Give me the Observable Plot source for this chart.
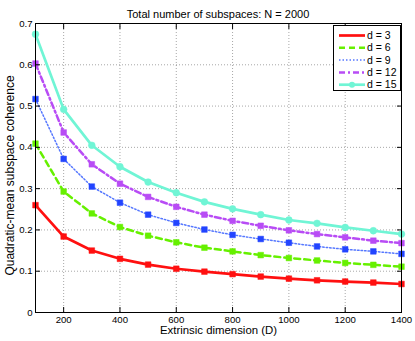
<!DOCTYPE html>
<html><head><meta charset="utf-8">
<script src="https://cdn.jsdelivr.net/npm/d3@7"></script>
<script src="https://cdn.jsdelivr.net/npm/@observablehq/plot@0.6"></script>
<style>
body{margin:0;background:#fff;font-family:"Liberation Sans",Arial,sans-serif;}
#wrap{position:relative;width:415px;height:341px;overflow:hidden;}
#title{height:21px;box-sizing:border-box;padding:8px 14px 0 35px;line-height:13px;font-size:11px;text-align:center;color:#000;}
#legend{position:absolute;left:333px;top:25px;}
svg{display:block;}
</style></head>
<body><div id="wrap"><div id="title"></div><div id="chart"></div><svg id="legend" width="68" height="66"></svg></div>
<script>
const titleText = "Total number of subspaces: N = 2000";
const xLabel = "Extrinsic dimension (D)";
const yLabel = "Quadratic-mean subspace coherence";
const xValues = [100,200,300,400,500,600,700,800,900,1000,1100,1200,1300,1400];
const seriesLabels = ["d = 3","d = 6","d = 9","d = 12","d = 15"];
const d3Values  = [0.260,0.184,0.150,0.130,0.116,0.106,0.099,0.093,0.087,0.082,0.078,0.075,0.0725,0.069];
const d6Values  = [0.409,0.293,0.240,0.207,0.186,0.170,0.157,0.148,0.139,0.132,0.126,0.120,0.1155,0.111];
const d9Values  = [0.517,0.372,0.305,0.266,0.237,0.217,0.201,0.188,0.178,0.169,0.160,0.153,0.148,0.142];
const d12Values = [0.603,0.436,0.359,0.312,0.280,0.256,0.237,0.222,0.210,0.199,0.190,0.182,0.174,0.168];
const d15Values = [0.674,0.492,0.405,0.353,0.316,0.290,0.268,0.251,0.237,0.224,0.216,0.206,0.198,0.190];
const xTicks = [200,400,600,800,1000,1200,1400];
const yTicks = [0,0.1,0.2,0.3,0.4,0.5,0.6,0.7];

const seriesValues = [d3Values,d6Values,d9Values,d12Values,d15Values];
// styles
const lineColors = ["#ff1010","#66f000","#5577ff","#b84cf5","#70f5d5"];
const markColors = ["#ff1010","#66f000","#2244ff","#b84cf5","#70f5d5"];
const dashes = [null,"6,4","1.5,2","6,3,2,3",null];
const widths = [2.7,2.5,1.5,2.5,2.7];
const symbols = ["square","square","square","square","circle"];

document.getElementById("title").textContent = titleText;

const rows = seriesValues.map((vals,i)=>vals.map((v,j)=>({x:xValues[j], y:v, s:seriesLabels[i]})));

const marks = [
  Plot.gridX(xTicks, {stroke:"#000", strokeOpacity:0.35, strokeDasharray:"1,2"}),
  Plot.gridY(yTicks, {stroke:"#000", strokeOpacity:0.35, strokeDasharray:"1,2"}),
];
rows.forEach((r,i)=>{
  marks.push(Plot.line(r, {x:"x", y:"y", stroke:lineColors[i], strokeWidth:widths[i], strokeDasharray:dashes[i]}));
  marks.push(Plot.dot(r, {x:"x", y:"y", symbol:symbols[i], fill:markColors[i], stroke:markColors[i], strokeWidth:0.5, r: symbols[i]==="circle"?3.4:3.2}));
});
marks.push(
  Plot.frame({stroke:"#000"}),
  Plot.axisX(xTicks, {anchor:"bottom", tickSize:-5, tickPadding:9, fontSize:9.6, tickFormat:d=>String(d), label:null}),
  Plot.axisX(xTicks, {anchor:"top", tickSize:-5, tickFormat:()=>"", label:null}),
  Plot.axisY(yTicks, {anchor:"left", tickSize:-5, tickPadding:8, fontSize:9.6, tickFormat:d=>String(d), label:null}),
  Plot.axisY(yTicks, {anchor:"right", tickSize:-5, tickFormat:()=>"", label:null}),
  Plot.text([xLabel], {text:d=>d, frameAnchor:"bottom", dy:18, lineAnchor:"middle", fontSize:11.4}),
  Plot.text([yLabel], {text:d=>d, frameAnchor:"left", textAnchor:"middle", rotate:-90, dx:-25, dy:7.5, lineAnchor:"middle", fontSize:12})
);

const chart = Plot.plot({
  width:415, height:320,
  marginTop:2, marginBottom:29, marginLeft:35, marginRight:14,
  x:{domain:[100,1400]},
  y:{domain:[0,0.7]},
  style:{fontFamily:'"Liberation Sans", Arial, sans-serif', fontSize:"10px", color:"#000", background:"#fff", overflow:"visible"},
  marks
});
document.getElementById("chart").appendChild(chart);

// legend
const lg = d3.select("#legend");
lg.append("rect").attr("x",0.5).attr("y",0.5).attr("width",67).attr("height",65).attr("fill","#fff").attr("stroke","#000");
seriesLabels.forEach((lab,i)=>{
  const yy = 10.5 + i*12.3;
  lg.append("line").attr("x1",6).attr("x2",32).attr("y1",yy).attr("y2",yy)
    .attr("stroke",lineColors[i]).attr("stroke-width",widths[i]).attr("stroke-dasharray",dashes[i]);
  if (symbols[i]==="circle") lg.append("circle").attr("cx",19).attr("cy",yy).attr("r",3).attr("fill",markColors[i]);
  lg.append("text").attr("x",34).attr("y",yy).attr("dy","0.35em").attr("font-size",10.5)
    .attr("font-family",'"Liberation Sans", Arial, sans-serif').text(lab);
});
</script></body></html>
